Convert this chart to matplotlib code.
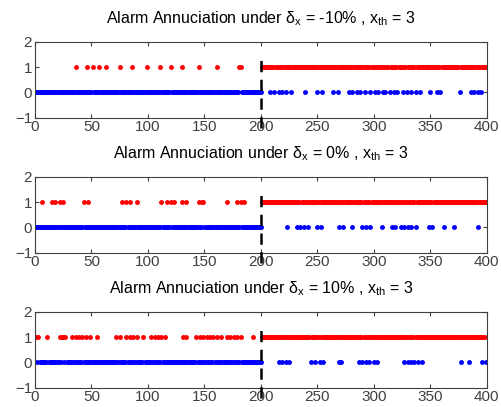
import numpy as np
import matplotlib
matplotlib.use('Agg')
import matplotlib.pyplot as plt

plt.rcParams['font.family'] = ['Liberation Sans', 'DejaVu Sans']
plt.rcParams['mathtext.fontset'] = 'custom'
plt.rcParams['mathtext.rm'] = 'Liberation Sans'
plt.rcParams['mathtext.it'] = 'Liberation Sans'

# sample index 1..400, fault starts after sample 200
n_samples = 400
change_point = 200

titles = [r'Alarm Annuciation under $\delta_x$ = -10% , $x_{th}$ = 3',
          r'Alarm Annuciation under $\delta_x$ = 0% , $x_{th}$ = 3',
          r'Alarm Annuciation under $\delta_x$ = 10% , $x_{th}$ = 3']

# false alarms (value 1) before the change point
false_alarms_1 = [36, 46, 51, 57, 63, 75, 86, 99, 111, 120, 130, 145, 161, 181, 182]
false_alarms_2 = [6, 15, 18, 22, 25, 43, 47, 77, 81, 84, 90, 112, 117, 120, 123,
                  130, 134, 145, 148, 149, 170, 179, 182, 185]
false_alarms_3 = [1, 3, 11, 22, 24, 25, 27, 33, 36, 39, 42, 45, 49, 55, 72, 75, 81,
                  84, 87, 90, 96, 103, 106, 109, 112, 115, 131, 134, 143, 146, 149,
                  152, 155, 158, 161, 165, 170, 173, 176, 179, 182, 193]

# missed alarms (value 0) after the change point
missed_1 = [208, 212, 216, 219, 222, 227, 239, 250, 254, 264, 268, 278, 281, 285,
            288, 292, 297, 301, 304, 308, 310, 314, 318, 321, 326, 329, 333, 337,
            341, 350, 356, 359, 376, 386, 389, 392, 395]
missed_2 = [223, 232, 235, 238, 242, 250, 253, 269, 273, 281, 290, 293, 297, 307,
            316, 319, 324, 327, 330, 333, 337, 349, 352, 362, 371, 392]
missed_3 = [216, 219, 222, 225, 244, 248, 252, 255, 269, 271, 287, 290, 293, 296,
            300, 303, 327, 330, 333, 336, 339, 343, 377, 384, 396, 399]

false_alarms = [false_alarms_1, false_alarms_2, false_alarms_3]
missed = [missed_1, missed_2, missed_3]

fig = plt.figure(figsize=(5.01, 4.07), dpi=100)
W, H = 501.0, 407.0
tops = [41.7, 176.7, 311.7]
grey = '#404040'

t = np.arange(1, n_samples + 1)
for k in range(3):
    alarm = np.zeros(n_samples)
    alarm[t > change_point] = 1
    for i in false_alarms[k]:
        alarm[i - 1] = 1
    for i in missed[k]:
        alarm[i - 1] = 0

    ax = fig.add_axes([35 / W, 1 - (tops[k] + 76) / H, 451.7 / W, 76 / H])
    on = alarm == 1
    ax.plot(t[~on], alarm[~on], '.', color='blue', ms=5)
    ax.plot(t[on], alarm[on], '.', color='red', ms=5)
    ax.plot([change_point, change_point], [-1.4, 1.3], '--', color='black',
            lw=1.8, dashes=(4.5, 3), clip_on=False, zorder=5)
    ax.set_xlim(0, 400)
    ax.set_ylim(-1, 2)
    ax.set_xticks(np.arange(0, 401, 50))
    ax.set_yticks([-1, 0, 1, 2])
    ax.tick_params(direction='in', top=True, right=True, labelsize=11,
                   colors=grey, length=3, pad=2)
    for s in ax.spines.values():
        s.set_color(grey)
    ax.set_title(titles[k], fontsize=11.5, pad=13)

plt.savefig('out.png', dpi=100)
